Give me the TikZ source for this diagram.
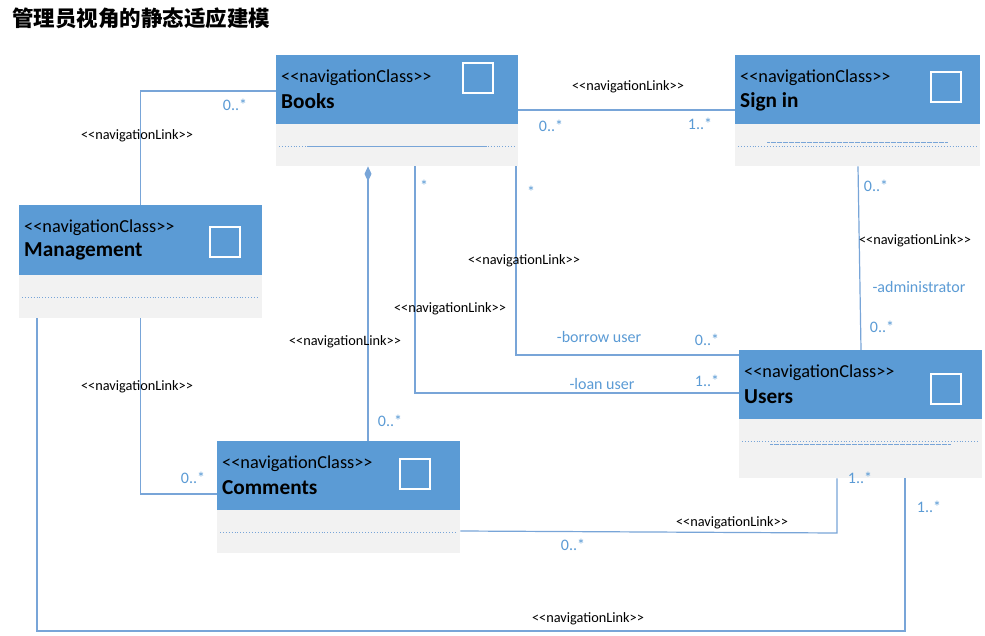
\documentclass[tikz,border=0pt]{standalone}
\usepackage{fontspec}
\setmainfont{Carlito}[Ligatures=TeXOff]
\newfontfamily\cjk{Noto Sans CJK SC}
\usetikzlibrary{calc,arrows.meta}
\definecolor{headblue}{HTML}{5B9BD5}
\definecolor{bodygray}{HTML}{F2F2F2}
\definecolor{linecol}{RGB}{120,165,216}
\definecolor{multcol}{RGB}{91,155,213}
\tikzset{
  classbody/.style={draw=none, fill=bodygray, inner sep=0pt},
  classhead/.style={draw=none, fill=headblue, inner sep=0pt},
  stereo/.style={anchor=west, inner sep=0pt, font=\fontsize{18.3}{21}\selectfont},
  ctitle/.style={anchor=west, inner sep=0pt, font=\fontsize{21.3}{24}\selectfont\bfseries},
  sqbox/.style={draw=white, line width=1.3pt, minimum size=30pt, inner sep=0pt},
  dotline/.style={draw=linecol, line width=0.9pt, dotted},
  link/.style={draw=linecol, line width=1.2pt},
  lnk/.style={inner sep=0pt, font=\fontsize{14.3}{17}\selectfont},
  mult/.style={inner sep=0pt, text=multcol, font=\fontsize{16}{19}\selectfont},
}
\newcommand\navclass[9]{%
  \node[classbody, minimum width=#4pt, minimum height=#5pt, anchor=north west] (#1) at (#2,#3) {};
  \node[classhead, minimum width=#4pt, minimum height=#6pt, anchor=north west] (#1h) at (#2,#3) {};
  \node[stereo] (#1s) at ($(#1.north west)+(5,22.5)$) {<<navigationClass>>};
  \node[ctitle] (#1t) at ($(#1.north west)+(5,46.5)$) {#7};
  \node[sqbox] (#1q) at (#8,#9) {};
}
\begin{document}
\begin{tikzpicture}[x=1pt,y=-1pt]
\useasboundingbox[fill=white] (0,0) rectangle (985,636);

\node[anchor=west, inner sep=0pt, font=\cjk\bfseries\fontsize{21.5}{25}\selectfont] (title) at (12,18) {管理员视角的静态适应建模};

\navclass{books}{276}{55}{242}{111}{69}{Books}{478}{78}
\navclass{signin}{735}{55}{245}{111}{69}{Sign in}{946}{87}
\navclass{mgmt}{19}{205}{243}{113}{70}{Management}{225}{242}
\navclass{comments}{217}{441}{243}{112}{69}{Comments}{415}{474}
\navclass{users}{739}{350}{243}{128}{69}{Users}{946}{389}

% compartment lines
\draw[dotline] ($(books.north west)+(3,91)$) -- ($(books.north east)+(-3,91)$);
\draw[draw=linecol, line width=0.8pt] ($(books.north west)+(31,91)$) -- ($(books.north east)+(-31,91)$);
\draw[dotline] ($(signin.north west)+(3,91)$) -- ($(signin.north east)+(-3,91)$);
\draw[dotline, dash pattern=on 0.6pt off 0.6pt] ($(signin.north west)+(32,87)$) -- ($(signin.north east)+(-33,87)$);
\draw[dotline] ($(mgmt.north west)+(3,92)$) -- ($(mgmt.north east)+(-3,92)$);
\draw[dotline] ($(comments.north west)+(3,91)$) -- ($(comments.north east)+(-3,91)$);
\draw[dotline] ($(users.north west)+(3,91)$) -- ($(users.north east)+(-3,91)$);
\draw[dotline, dash pattern=on 0.6pt off 0.6pt] ($(users.north west)+(31,94)$) -- ($(users.north east)+(-32,94)$);

% connectors
\coordinate (k8) at (837,533);
\coordinate (k9) at (37,631);
\draw[link] (mgmt.north) |- (books.west |- 0,91);
\draw[link] (books.east |- 0,110) -- (signin.west |- 0,110);
\draw[link, {Diamond[width=7pt,length=15pt]}-] (books.south -| 368,0) -- (comments.north -| 368,0);
\draw[link] (books.south -| 415,0) |- (users.west |- 0,393);
\draw[link] (books.south -| 516,0) |- (users.west |- 0,355);
\draw[link] (signin.south -| 858,0) -- (users.north -| 861,0);
\draw[link] (mgmt.south) |- (comments.west |- 0,494);
\draw[link] (comments.east |- 0,531) -- (k8) -- (users.south -| k8);
\draw[link] (mgmt.south -| k9) -- (k9) -| (users.south -| 905,0);

% labels
\node[lnk] (l1) at (137,136) {<<navigationLink>>};
\node[mult] (m1) at (235,105) {0..*};
\node[lnk] (l2) at (628,87) {<<navigationLink>>};
\node[mult] (m2a) at (551,126) {0..*};
\node[mult] (m2b) at (700,124) {1..*};
\node[lnk] (l3) at (345,342) {<<navigationLink>>};
\node[mult] (m3) at (390,421) {0..*};
\node[lnk] (l4) at (450,309) {<<navigationLink>>};
\node[mult] (m4a) at (424,186) {*};
\node[mult] (r4) at (602,384) {-loan user};
\node[mult] (m4b) at (707,381) {1..*};
\node[lnk] (l5) at (524,261) {<<navigationLink>>};
\node[mult] (m5a) at (531,192) {*};
\node[mult] (r5) at (599,337) {-borrow user};
\node[mult] (m5b) at (707,340) {0..*};
\node[lnk] (l6) at (915,241) {<<navigationLink>>};
\node[mult] (m6a) at (876,186) {0..*};
\node[mult] (r6) at (919,287) {-administrator};
\node[mult] (m6b) at (882,327) {0..*};
\node[lnk] (l7) at (137,387) {<<navigationLink>>};
\node[mult] (m7) at (193,478) {0..*};
\node[lnk] (l8) at (732,523) {<<navigationLink>>};
\node[mult] (m8a) at (573,545) {0..*};
\node[mult] (m8b) at (860,478) {1..*};
\node[lnk] (l9) at (588,619) {<<navigationLink>>};
\node[mult] (m9) at (929,507) {1..*};
\end{tikzpicture}
\end{document}
